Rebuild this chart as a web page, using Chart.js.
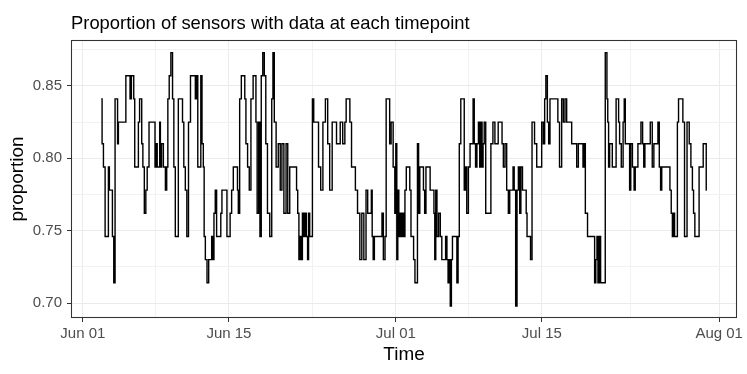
<!DOCTYPE html>
<html><head><meta charset="utf-8">
<script src="https://cdn.jsdelivr.net/npm/chart.js@4.4.0/dist/chart.umd.min.js"></script>
<style>html,body{margin:0;padding:0;background:#fff}#wrap{width:747px;height:374px}</style>
</head><body><div id="wrap"><canvas id="c" width="747" height="374"></canvas></div>
<script>
// time in days since Jun 01 00:00
const timeDays = [
1.76,1.92,2.02,2.24,2.40,2.49,2.59,2.78,2.88,3.04,3.13,3.29,3.36,3.45,4.09,4.15,4.47,4.57,4.73,4.86,
4.89,5.05,5.27,5.37,5.50,5.59,5.69,5.81,5.97,6.10,6.23,6.45,6.87,6.96,7.06,7.19,7.35,7.38,7.48,7.60,
7.83,7.99,8.08,8.21,8.34,8.53,8.66,8.78,8.94,9.10,9.20,9.49,9.61,9.74,9.90,10.03,10.22,10.41,
10.70,10.86,10.95,11.08,11.27,11.34,11.50,11.59,11.66,11.82,11.98,12.14,12.30,12.39,12.52,12.61,12.77,12.87,13.19,13.25,
13.41,13.73,13.89,14.08,14.15,14.37,14.47,14.79,14.85,14.95,15.11,15.27,15.49,15.55,15.71,15.87,16.03,16.19,16.45,16.54,
16.64,16.77,16.93,17.02,17.18,17.31,17.47,17.60,17.79,18.04,18.17,18.27,18.43,18.62,18.84,19.00,19.16,19.38,19.58,19.70,
19.96,
20.28,20.44,20.53,20.66,20.76,20.85,20.98,21.11,21.24,21.36,21.49,21.59,21.68,21.81,21.94,22.07,22.19,22.51,22.67,22.93,
23.09,23.41,23.53,23.79,24.01,24.27,24.36,24.59,24.75,25.07,25.16,25.32,25.55,25.64,25.87,26.03,26.22,26.44,26.66,26.82,
27.05,27.24,27.37,27.62,27.69,27.78,27.88,28.01,28.64,28.71,28.90,29.03,29.12,29.35,29.47,29.63,
29.86,29.95,30.05,30.14,30.24,30.34,30.43,30.56,30.69,30.81,30.94,31.07,31.29,31.39,31.52,31.64,31.77,31.90,32.03,32.12,
32.25,32.35,32.60,32.70,32.83,32.95,33.21,33.37,33.62,33.69,33.78,33.88,34.01,34.20,34.33,34.49,34.71,34.84,34.96,35.06,
35.16,35.28,35.38,35.48,35.79,35.92,36.02,36.15,36.31,36.50,36.62,36.72,36.88,37.04,37.20,37.36,37.46,37.58,37.71,37.84,
38.00,38.09,38.22,38.32,38.41,38.54,38.70,39.05,39.18,
39.44,39.56,39.75,39.88,40.14,40.23,40.39,40.55,40.71,40.87,40.97,41.19,41.29,41.41,41.57,41.67,41.83,41.93,42.05,42.24,
42.47,42.53,42.63,42.88,42.95,43.17,43.43,43.59,43.91,44.06,44.22,44.32,44.45,44.61,44.70,44.86,45.50,45.57,45.82,45.98,
46.14,46.30,46.46,46.78,46.94,47.26,47.42,47.58,47.90,47.99,48.12,48.22,48.54,48.92,
49.01,49.11,49.24,49.33,49.43,49.59,49.68,49.97,50.19,50.29,50.35,50.45,50.55,50.71,50.80,51.09,51.15,51.31,51.41,51.50,
51.73,51.85,51.95,52.05,52.37,52.46,52.59,52.78,52.91,53.00,53.42,53.58,53.74,53.80,53.96,54.28,54.51,54.66,54.82,55.08,
55.18,55.34,55.43,55.56,56.20,56.36,56.45,56.58,56.68,56.77,56.93,57.06,57.15,57.47,57.57,57.79,58.05,58.21,58.37,58.50,
58.59,58.75,58.98,59.17,59.39,59.55,59.71,59.81
];
const proportion = [
.841,.810,.794,.746,.746,.794,.778,.778,.746,.714,.841,.841,.810,.825,.825,.857,.857,.841,.857,.857,
.841,.794,.794,.825,.841,.841,.810,.794,.762,.778,.794,.825,.825,.794,.810,.794,.794,.825,.794,.810,
.794,.778,.794,.841,.857,.873,.841,.794,.746,.746,.841,.841,.825,.794,.778,.746,.825,.857,
.857,.841,.857,.794,.794,.857,.810,.794,.746,.730,.714,.730,.730,.746,.730,.762,.778,.746,.746,.762,
.778,.778,.746,.746,.762,.778,.794,.794,.778,.762,.841,.857,.857,.841,.810,.794,.778,.841,.857,.857,
.825,.762,.825,.746,.857,.873,.857,.810,.762,.746,.841,.873,.825,.794,.810,.778,.810,.762,.810,.762,
.794,
.794,.794,.778,.762,.730,.746,.730,.762,.746,.762,.746,.730,.762,.746,.746,.841,.825,.825,.794,.778,
.825,.841,.810,.778,.825,.825,.810,.810,.825,.810,.825,.841,.841,.825,.794,.794,.778,.762,.730,.762,
.730,.778,.762,.762,.778,.746,.730,.746,.746,.762,.730,.746,.841,.841,.810,.825,
.794,.762,.810,.730,.778,.746,.762,.746,.762,.746,.778,.794,.794,.778,.746,.746,.730,.714,.714,.810,
.762,.794,.794,.778,.762,.794,.794,.778,.778,.762,.730,.778,.746,.762,.746,.730,.730,.746,.730,.714,
.730,.698,.730,.746,.746,.714,.746,.810,.841,.841,.778,.794,.762,.794,.810,.810,.841,.810,.794,.810,
.825,.794,.825,.794,.810,.825,.762,.762,.810,
.825,.810,.810,.825,.825,.810,.794,.810,.778,.762,.778,.778,.794,.778,.698,.778,.794,.762,.794,.778,
.778,.762,.746,.746,.730,.825,.810,.794,.794,.825,.810,.841,.857,.825,.810,.841,.841,.825,.794,.841,
.825,.841,.825,.825,.810,.810,.794,.810,.810,.794,.810,.762,.746,.746,
.746,.714,.730,.746,.714,.746,.714,.714,.873,.841,.825,.794,.810,.810,.794,.794,.841,.841,.825,.810,
.794,.825,.841,.810,.810,.778,.810,.794,.778,.794,.810,.825,.810,.794,.810,.810,.825,.794,.810,.810,
.825,.794,.778,.794,.794,.778,.762,.746,.762,.746,.746,.825,.841,.841,.825,.746,.825,.810,.794,.778,
.762,.746,.746,.794,.794,.810,.810,.778
];
const xTickDays = [0, 14, 30, 44, 61];
const xTickLabels = ['Jun 01', 'Jun 15', 'Jul 01', 'Jul 15', 'Aug 01'];
const xMinorDays = [7, 22, 37, 52.5];
const yTicks = [0.70, 0.75, 0.80, 0.85];
const yMinorTicks = [0.725, 0.775, 0.825, 0.875];
const xLimits = [-1.14, 62.71];
const yLimits = [0.6897, 0.8817];

const FONT = "'Liberation Sans', Arial, Helvetica, sans-serif";
Chart.defaults.font.family = FONT;

function buildTicks(major, minor) {
  const all = major.map(v => ({value: v, major: true})).concat(minor.map(v => ({value: v, major: false})));
  all.sort((a, b) => a.value - b.value);
  return all;
}
const isMajorX = v => xTickDays.some(d => Math.abs(d - v) < 1e-6);
const isMajorY = v => yTicks.some(d => Math.abs(d - v) < 1e-6);

const panelBorder = {
  id: 'panelBorder',
  afterDatasetsDraw(chart) {
    const {ctx, chartArea: a} = chart;
    ctx.save();
    ctx.strokeStyle = '#333333';
    ctx.lineWidth = 1.07;
    const l = Math.round(a.left) + 0.5, t = Math.round(a.top) + 0.5;
    const r = Math.round(a.right) - 0.5, b = Math.round(a.bottom) - 0.5;
    ctx.strokeRect(l, t, r - l, b - t);
    ctx.restore();
  }
};

const data = timeDays.map((t, i) => ({x: t, y: proportion[i]}));

new Chart(document.getElementById('c'), {
  type: 'line',
  data: {
    datasets: [{
      label: 'proportion',
      data: data,
      borderColor: '#000000',
      borderWidth: 1.4,
      pointRadius: 0,
      fill: false,
      stepped: 'middle'
    }]
  },
  options: {
    responsive: false,
    animation: false,
    devicePixelRatio: 1,
    layout: {padding: {left: 0, right: 10, top: 0, bottom: 0}},
    plugins: {
      legend: {display: false},
      tooltip: {enabled: false},
      title: {
        display: true,
        text: 'Proportion of sensors with data at each timepoint',
        align: 'start',
        fullSize: false,
        color: '#000000',
        font: {size: 18.4, weight: 'normal', family: FONT},
        padding: {top: 13, bottom: 4.9}
      }
    },
    scales: {
      x: {
        type: 'linear',
        min: xLimits[0],
        max: xLimits[1],
        afterFit(s) { s.height = 56; },
        afterBuildTicks(s) { s.ticks = buildTicks(xTickDays, xMinorDays); },
        ticks: {
          autoSkip: false, maxRotation: 0, minRotation: 0,
          color: '#4D4D4D', font: {size: 15}, padding: 3,
          callback(v) { const i = xTickDays.findIndex(d => Math.abs(d - v) < 1e-6); return i >= 0 ? xTickLabels[i] : ''; }
        },
        grid: {
          color: c => (c.tick && isMajorX(c.tick.value)) ? '#EBEBEB' : '#F2F2F2',
          lineWidth: 1,
          tickColor: c => (c.tick && isMajorX(c.tick.value)) ? '#333333' : 'rgba(0,0,0,0)',
          tickLength: 4,
          drawTicks: true
        },
        border: {display: false},
        title: {display: true, text: 'Time', color: '#000000', font: {size: 18.9}, padding: {top: 0, bottom: 7.5}}
      },
      y: {
        type: 'linear',
        min: yLimits[0],
        max: yLimits[1],
        afterFit(s) { s.width = 71; },
        afterBuildTicks(s) { s.ticks = buildTicks(yTicks, yMinorTicks); },
        ticks: {
          autoSkip: false,
          color: '#4D4D4D', font: {size: 15}, padding: 5,
          callback(v) { return isMajorY(v) ? v.toFixed(2) : ''; }
        },
        grid: {
          color: c => (c.tick && isMajorY(c.tick.value)) ? '#EBEBEB' : '#F2F2F2',
          lineWidth: 1,
          tickColor: c => (c.tick && isMajorY(c.tick.value)) ? '#333333' : 'rgba(0,0,0,0)',
          tickLength: 4,
          drawTicks: true
        },
        border: {display: false},
        title: {display: true, text: 'proportion', color: '#000000', font: {size: 18.9}, padding: {top: 6, bottom: 0}}
      }
    }
  },
  plugins: [panelBorder]
});
</script></body></html>
